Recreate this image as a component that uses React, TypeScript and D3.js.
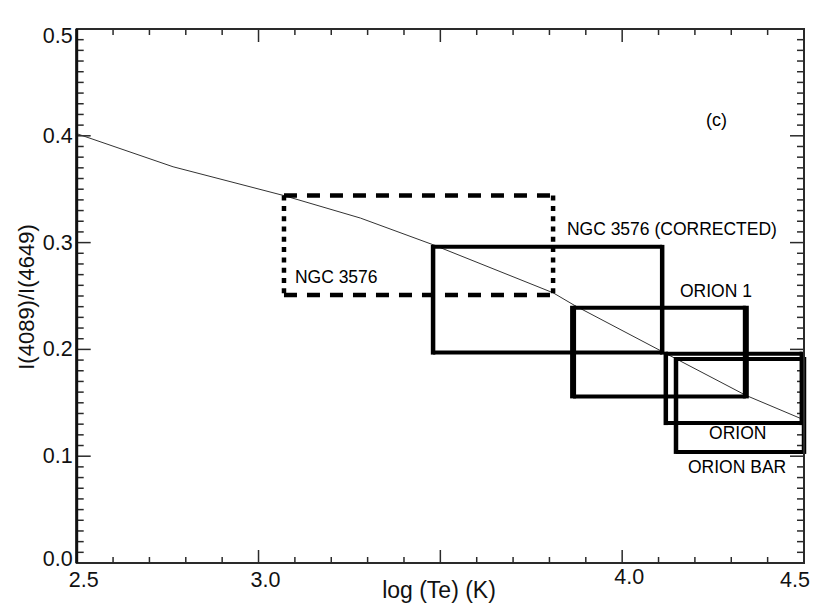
import React from "react";
import * as d3 from "d3";

// ---- data ----
const xDomain = [2.5, 4.5];
const yDomain = [0, 0.5];
const xMajorTicks = [2.5, 3.0, 3.5, 4.0, 4.5];
const xTickLabels = ["2.5", "3.0", "", "4.0", "4.5"];
const yMajorTicks = [0.0, 0.1, 0.2, 0.3, 0.4, 0.5];
const yTickLabels = ["0.0", "0.1", "0.2", "0.3", "0.4", "0.5"];

const curveLogTe = [2.5, 2.765, 3.07, 3.28, 3.48, 3.81, 3.87, 4.11, 4.34, 4.5];
const curveRatio = [0.402, 0.371, 0.344, 0.323, 0.298, 0.253, 0.241, 0.198, 0.157, 0.134];

const boxNames = ["NGC 3576", "NGC 3576 (CORRECTED)", "ORION 1", "ORION", "ORION BAR"];
const boxX0 = [3.07, 3.48, 3.865, 4.12, 4.148];
const boxX1 = [3.81, 4.11, 4.34, 4.494, 4.5];
const boxY0 = [0.251, 0.197, 0.156, 0.131, 0.104];
const boxY1 = [0.344, 0.296, 0.239, 0.196, 0.191];
const boxDashed = [true, false, false, false, false];

// label anchor (data units)
const labelX = [3.1, 3.848, 4.159, 4.239, 4.181];
const labelY = [0.262, 0.307, 0.249, 0.116, 0.084];

const panelLabel = "(c)";
const xTitle = "log (Te) (K)";
const yTitle = "I(4089)/I(4649)";

export default function App() {
  const W = 830, H = 613;
  const L = 76.7, R = 804, T = 29, B = 563;
  const x = d3.scaleLinear().domain(xDomain).range([L, R]);
  const y = d3.scaleLinear().domain(yDomain).range([B, T]);

  const line = d3
    .line<number>()
    .x((_, i) => x(curveLogTe[i]))
    .y((d) => y(d))
    .curve(d3.curveLinear);

  const xMinor = d3.range(0, 21).map((i) => 2.5 + i * 0.1).filter((v) => Math.abs(((v - 2.5) / 0.5) - Math.round((v - 2.5) / 0.5)) > 1e-6);
  const yMinor = d3.range(0, 51).map((i) => i * 0.01).filter((v) => Math.abs(v * 10 - Math.round(v * 10)) > 1e-6);

  const font = "'Liberation Sans', Arial, sans-serif";
  const axisCol = "#2a2a2a";

  return (
    <svg width={W} height={H} style={{ position: "absolute", left: 0, top: 0, background: "#fff" }} fontFamily={font}>
      <rect x={0} y={0} width={W} height={H} fill="#fff" />
      {/* ticks */}
      <g stroke={axisCol} strokeWidth={1.5}>
        {xMajorTicks.map((v, i) => (
          <g key={"xm" + i}>
            <line x1={x(v)} x2={x(v)} y1={B} y2={B - 13} />
            <line x1={x(v)} x2={x(v)} y1={T} y2={T + 13} />
          </g>
        ))}
        {xMinor.map((v, i) => (
          <g key={"xn" + i}>
            <line x1={x(v)} x2={x(v)} y1={B} y2={B - 6} />
            <line x1={x(v)} x2={x(v)} y1={T} y2={T + 6} />
          </g>
        ))}
        {yMajorTicks.map((v, i) => (
          <g key={"ym" + i}>
            <line x1={L} x2={L + 14} y1={y(v)} y2={y(v)} />
            <line x1={R} x2={R - 14} y1={y(v)} y2={y(v)} />
          </g>
        ))}
        {yMinor.map((v, i) => (
          <g key={"yn" + i}>
            <line x1={L} x2={L + 7} y1={y(v)} y2={y(v)} />
            <line x1={R} x2={R - 7} y1={y(v)} y2={y(v)} />
          </g>
        ))}
      </g>
      {/* curve */}
      <path d={line(curveRatio) || ""} fill="none" stroke="#333" strokeWidth={1} />
      {/* boxes */}
      {boxNames.map((n, i) => {
        const x0 = x(boxX0[i]), x1 = x(boxX1[i]), y0 = y(boxY0[i]), y1 = y(boxY1[i]);
        if (boxDashed[i]) {
          return (
            <g key={n} stroke="#000" strokeWidth={4.5} fill="none">
              <line x1={x0} x2={x1} y1={y1} y2={y1} strokeDasharray="13 10" />
              <line x1={x0} x2={x1} y1={y0} y2={y0} strokeDasharray="13 10" />
              <line x1={x0} x2={x0} y1={y1} y2={y0} strokeDasharray="5 5.3" />
              <line x1={x1} x2={x1} y1={y1} y2={y0} strokeDasharray="5 5.3" />
            </g>
          );
        }
        return (
          <g key={n} stroke="#000" fill="none">
            <line x1={x0} x2={x1} y1={y1} y2={y1} strokeWidth={4} />
            <line x1={x0} x2={x1} y1={y0} y2={y0} strokeWidth={4} />
            <line x1={x0} x2={x0} y1={y1 - 2} y2={y0 + 2} strokeWidth={i === 2 ? 6 : 4.5} />
            <line x1={x1} x2={x1} y1={y1 - 2} y2={y0 + 2} strokeWidth={i === 2 ? 6 : 4.5} />
          </g>
        );
      })}
      {/* box labels */}
      {boxNames.map((n, i) => (
        <text key={"l" + n} x={x(labelX[i])} y={y(labelY[i])} fontSize={17.5} fill="#000">
          {n}
        </text>
      ))}
      <text x={706} y={126} fontSize={18} fill="#000">{panelLabel}</text>
      {/* frame */}
      <rect x={L} y={T} width={R - L} height={B - T} fill="none" stroke={axisCol} strokeWidth={2} />
      <line x1={L} x2={L} y1={T} y2={B} stroke="#111" strokeWidth={3} />
      {/* tick labels */}
      {yMajorTicks.map((v, i) => {
        const dy = i === yMajorTicks.length - 1 ? 7 : i === 0 ? -4.5 : 0;
        return (
          <text key={"yl" + i} x={L - 4} y={y(v) + dy} fontSize={21.5} textAnchor="end" dominantBaseline="central" fill="#111">
            {yTickLabels[i]}
          </text>
        );
      })}
      {xMajorTicks.map((v, i) => {
        const last = i === xMajorTicks.length - 1;
        return (
          <text key={"xl" + i} x={last ? x(v) + 6 : x(v) + 7} y={i === 3 ? 584 : 587} fontSize={21.5} textAnchor={last ? "end" : "middle"} fill="#111">
            {xTickLabels[i]}
          </text>
        );
      })}
      {/* titles */}
      <text x={439} y={598} fontSize={23} textAnchor="middle" fill="#111">{xTitle}</text>
      <text transform={`translate(34,297) rotate(-90)`} fontSize={22} textAnchor="middle" fill="#111">{yTitle}</text>
    </svg>
  );
}
